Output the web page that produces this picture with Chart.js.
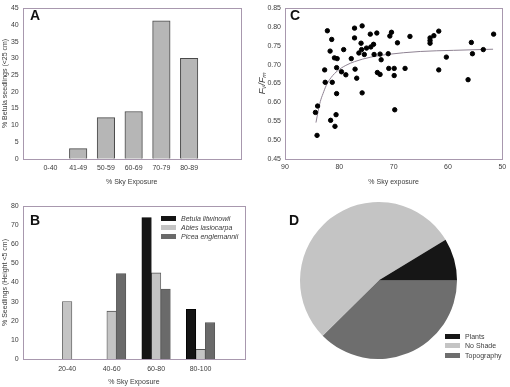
<!DOCTYPE html>
<html>
<head>
<meta charset="utf-8">
<script src="https://cdn.jsdelivr.net/npm/chart.js@4/dist/chart.umd.min.js"></script>
<style>
  body { margin: 0; background: #fff; }
  #wrap { position: relative; width: 510px; height: 387px; overflow: hidden; font-family: "Liberation Sans", Arial, sans-serif; }
  canvas { position: absolute; }
  .letter { position: absolute; font-weight: bold; font-size: 14px; line-height: 14px; color: #111; }
  .leg { position: absolute; font-size: 7px; color: #3c3c3c; }
  .leg div { height: 9.3px; line-height: 9.3px; white-space: nowrap; }
  .leg span.sw { display: inline-block; width: 15px; height: 5px; vertical-align: middle; margin-right: 5px; margin-top: -1px; }
</style>
</head>
<body>
<div id="wrap">
  <canvas id="chartA" width="255" height="195" style="left:0;top:0"></canvas>
  <canvas id="chartC" width="255" height="195" style="left:255px;top:0"></canvas>
  <canvas id="chartB" width="255" height="192" style="left:0;top:195px"></canvas>
  <canvas id="chartD" width="157" height="157" style="left:300px;top:202px"></canvas>
  <div class="letter" style="left:30px;top:8px">A</div>
  <div class="letter" style="left:290px;top:8px">C</div>
  <div class="letter" style="left:30px;top:213px">B</div>
  <div class="letter" style="left:289px;top:213px">D</div>
  <div class="leg" id="legB" style="left:161px;top:213.5px;font-style:italic"></div>
  <div class="leg" id="legD" style="left:445px;top:332px"></div>
</div>
<script>
// ---- panel A: Betula seedlings <25 cm
const skyCatsA = ['0-40', '41-49', '50-59', '60-69', '70-79', '80-89', '90-100'];
const betulaPctA = [0, 3, 12.3, 14.1, 41.2, 30, 0];

// ---- panel B: seedlings <5 cm by species
const skyCatsB = ['20-40', '40-60', '60-80', '80-100'];
const speciesB = ['Betula litwinowii', 'Abies lasiocarpa', 'Picea englemannii'];
const betulaB = [0, 0, 74, 26];
const abiesB = [30, 25, 45, 5];
const piceaB = [0, 44.7, 36.6, 19];
const coloursB = ['#141414', '#c4c4c4', '#6a6a6a'];

// ---- panel C: Fv/Fm vs sky exposure
const skyC = [82.2, 81.4, 81.7, 80.9, 80.4, 79.2, 82.7, 80.5, 79.6, 78.8, 82.6, 81.3, 80.5, 84.4, 84.0,
  80.6, 81.6, 80.8, 84.1, 77.2, 75.8, 77.2, 76.0, 75.9, 76.4, 75.0, 75.4, 77.8, 77.1, 76.8, 75.8,
  74.3, 73.1, 74.2, 73.7, 73.6, 72.5, 72.3, 73.0, 72.5, 70.7, 70.4, 69.3, 71.0, 70.9, 69.9, 69.9,
  69.8, 67.9, 67.0, 63.3, 63.3, 63.3, 62.6, 61.7, 61.7, 60.3, 56.3, 55.7, 55.5, 53.5, 51.6];
const fvfmC = [0.790, 0.767, 0.736, 0.718, 0.716, 0.740, 0.686, 0.692, 0.681, 0.673, 0.653, 0.653, 0.623, 0.573, 0.590,
  0.567, 0.552, 0.536, 0.512, 0.797, 0.803, 0.771, 0.757, 0.740, 0.731, 0.744, 0.727, 0.716, 0.688, 0.664, 0.625,
  0.781, 0.784, 0.747, 0.754, 0.727, 0.728, 0.713, 0.679, 0.674, 0.776, 0.786, 0.758, 0.729, 0.690, 0.690, 0.671,
  0.580, 0.690, 0.775, 0.771, 0.764, 0.757, 0.777, 0.789, 0.686, 0.720, 0.660, 0.759, 0.729, 0.740, 0.781];
const fitSkyC = [84.3, 83.9, 83.5, 83.0, 82.4, 81.5, 80.3, 78.8, 77.2, 74.2, 71.2, 65.1, 59.0, 51.7];
const fitFvfmC = [0.546, 0.576, 0.602, 0.623, 0.645, 0.666, 0.684, 0.698, 0.708, 0.720, 0.727, 0.735, 0.738, 0.741];

// ---- panel D: shade source
const shadeLabels = ['Plants', 'No Shade', 'Topography'];
const shadeValues = [8.7, 53.7, 37.6];
const shadeColours = ['#161616', '#c4c4c4', '#6e6e6e'];

Chart.defaults.font.family = '"Liberation Sans", Arial, sans-serif';
Chart.defaults.font.size = 7;
Chart.defaults.color = '#3c3c3c';
Chart.defaults.animation = false;
Chart.defaults.responsive = false;
Chart.defaults.plugins.legend.display = false;
Chart.defaults.plugins.tooltip.enabled = false;

// frame round the plot area
const frame = {
  id: 'frame',
  afterDatasetsDraw(chart) {
    const a = chart.chartArea, ctx = chart.ctx;
    ctx.save();
    ctx.strokeStyle = '#a898ae';
    ctx.lineWidth = 1;
    ctx.strokeRect(Math.round(a.left) + 0.5, Math.round(a.top) + 0.5, Math.round(a.right - a.left), Math.round(a.bottom - a.top));
    ctx.restore();
  }
};

function yAxis(min, max, step, title, width, titlePad, titleFont) {
  return {
    min: min, max: max,
    grid: { display: false, drawTicks: false },
    border: { display: false },
    ticks: { stepSize: step, padding: 4, callback: v => step < 1 ? v.toFixed(2) : v },
    title: { display: true, text: title, font: titleFont, padding: { top: titlePad, bottom: 0 } },
    afterFit: s => { s.width = width; }
  };
}

// A
new Chart(document.getElementById('chartA'), {
  type: 'bar',
  data: {
    datasets: [{
      data: betulaPctA.map((v, i) => ({ x: i + 1, y: v })),
      backgroundColor: '#b6b6b6',
      borderColor: '#4a4a4a',
      borderWidth: 1,
      barThickness: 17.5
    }]
  },
  options: {
    layout: { padding: { top: 4, right: 14.3, left: 0, bottom: 0 } },
    scales: {
      x: {
        type: 'linear', offset: false, min: 0, max: 7.86,
        grid: { display: false, drawTicks: false }, border: { display: false },
        ticks: { stepSize: 1, padding: 5, autoSkip: false, maxRotation: 0,
          callback: v => (Number.isInteger(v) && v >= 1 && v <= skyCatsA.length) ? skyCatsA[v - 1] : '' },
        title: { display: true, text: '% Sky Exposure', padding: { top: 0, bottom: 8.8 } },
        afterFit: s => { s.height = 36.3; }
      },
      y: yAxis(0, 45, 5, '% Betula seedlings (<25 cm)', 22.7, 1)
    }
  },
  plugins: [frame]
});

// B
const seriesB = [betulaB, abiesB, piceaB];
new Chart(document.getElementById('chartB'), {
  type: 'bar',
  data: {
    datasets: seriesB.map((vals, k) => ({
      label: speciesB[k],
      data: vals.map((v, i) => ({ x: i + 1, y: v })),
      backgroundColor: coloursB[k],
      borderColor: k === 0 ? '#000' : '#555',
      borderWidth: 0.8,
      barThickness: 9.5
    }))
  },
  options: {
    layout: { padding: { top: 11, right: 10, left: 0, bottom: 0 } },
    scales: {
      x: {
        type: 'linear', offset: false, min: 0, max: 5,
        grid: { display: false, drawTicks: false }, border: { display: false },
        ticks: { stepSize: 1, padding: 5.8, autoSkip: false, maxRotation: 0,
          callback: v => (Number.isInteger(v) && v >= 1 && v <= skyCatsB.length) ? skyCatsB[v - 1] : '' },
        title: { display: true, text: '% Sky Exposure', padding: { top: 0, bottom: 1.1 } },
        afterFit: s => { s.height = 28; }
      },
      y: yAxis(0, 80, 10, '% Seedlings (Height <5 cm)', 22.7, 0.8)
    }
  },
  plugins: [frame]
});

// C
new Chart(document.getElementById('chartC'), {
  type: 'scatter',
  data: {
    datasets: [{
      data: skyC.map((x, i) => ({ x: x, y: fvfmC[i] })),
      backgroundColor: '#000',
      borderColor: '#000',
      pointRadius: 2.2
    }, {
      data: fitSkyC.map((x, i) => ({ x: x, y: fitFvfmC[i] })),
      showLine: true,
      pointRadius: 0,
      borderColor: '#8e8292',
      borderWidth: 1,
      cubicInterpolationMode: 'monotone'
    }]
  },
  options: {
    layout: { padding: { top: 4, right: 5.7, left: 0, bottom: 0 } },
    scales: {
      x: {
        min: 50, max: 90, reverse: true,
        grid: { display: false, drawTicks: false }, border: { display: false },
        ticks: { stepSize: 10, padding: 3.8, maxRotation: 0 },
        title: { display: true, text: '% Sky exposure', padding: { top: 0, bottom: 9.1 } },
        afterFit: s => { s.height = 36.3; }
      },
      y: yAxis(0.45, 0.85, 0.05, 'Fᵥ/Fₘ', 30, 2, { style: 'italic', size: 9 })
    }
  },
  plugins: [frame]
});

// D
new Chart(document.getElementById('chartD'), {
  type: 'pie',
  data: {
    labels: shadeLabels.slice().reverse(),
    datasets: [{
      data: shadeValues.slice().reverse(),
      backgroundColor: shadeColours.slice().reverse(),
      borderWidth: 0
    }]
  },
  options: { rotation: 90 }
});

// legends
function buildLegend(id, labels, colours) {
  const el = document.getElementById(id);
  labels.forEach((t, i) => {
    const row = document.createElement('div');
    const sw = document.createElement('span');
    sw.className = 'sw';
    sw.style.background = colours[i];
    row.appendChild(sw);
    row.appendChild(document.createTextNode(t));
    el.appendChild(row);
  });
}
buildLegend('legB', speciesB, coloursB);
buildLegend('legD', shadeLabels, shadeColours);
</script>
</body>
</html>
